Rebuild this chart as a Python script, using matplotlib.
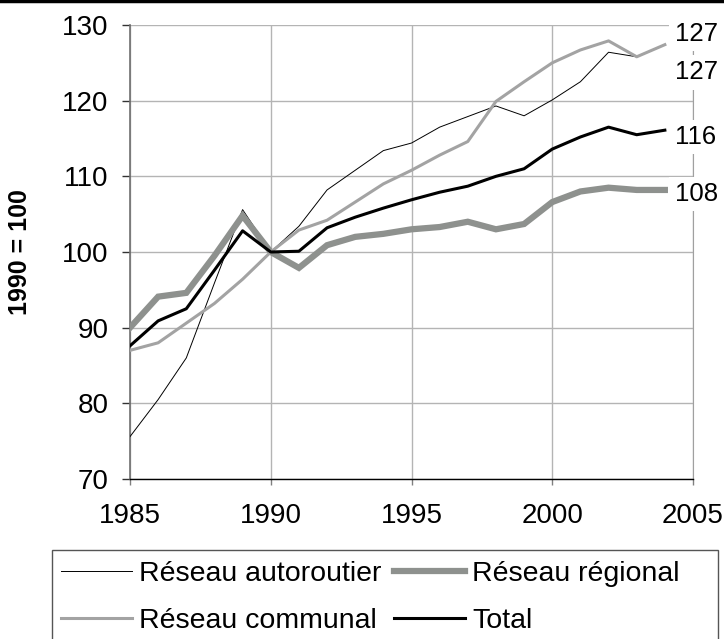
import numpy as np
import matplotlib
matplotlib.use("Agg")
import matplotlib.pyplot as plt
from matplotlib.lines import Line2D
from matplotlib.patches import Rectangle

plt.rcParams['font.family'] = ['Liberation Sans', 'DejaVu Sans']

years = np.arange(1985, 2005)
autoroutier = [75.6, 80.5, 86.0, 95.9, 105.6, 100.0, 103.4, 108.2, 110.8, 113.4,
               114.4, 116.5, 117.9, 119.3, 118.0, 120.1, 122.5, 126.4, 125.8, 127.4]
regional = [90.0, 94.1, 94.6, 99.5, 104.8, 100.0, 97.9, 100.9, 102.0, 102.4,
            103.0, 103.3, 104.0, 103.0, 103.7, 106.6, 108.0, 108.5, 108.2, 108.2]
communal = [87.0, 88.0, 90.6, 93.2, 96.4, 100.0, 102.9, 104.2, 106.6, 109.0,
            110.8, 112.8, 114.6, 119.9, 122.5, 125.0, 126.7, 127.9, 125.8, 127.4]
total = [87.6, 90.9, 92.5, 97.6, 102.8, 100.0, 100.1, 103.2, 104.6, 105.8,
         106.9, 107.9, 108.7, 110.0, 111.0, 113.6, 115.2, 116.5, 115.5, 116.1]

W, H = 724, 639
FS = 20
fig = plt.figure(figsize=(W / 100, H / 100), dpi=100)
ax = fig.add_axes([130 / W, 1 - 479 / H, (693 - 130) / W, (479 - 25) / H])

l_auto, = ax.plot(years, autoroutier, color='black', lw=0.7, label='Réseau autoroutier', zorder=3)
l_reg, = ax.plot(years, regional, color='#8e918e', lw=4.5, label='Réseau régional', zorder=3,
                 solid_joinstyle='miter')
l_com, = ax.plot(years, communal, color='#a3a3a3', lw=2.2, label='Réseau communal', zorder=3)
l_tot, = ax.plot(years, total, color='black', lw=2.2, label='Total', zorder=3)

ax.set_xlim(1985, 2005)
ax.set_ylim(70, 130)
ax.set_xticks(np.arange(1985, 2006, 5))
ax.set_yticks(np.arange(70, 131, 10))
ax.grid(True, color='#b4b4b4', lw=1.0)
ax.set_axisbelow(True)

ax.spines['top'].set_visible(False)
ax.spines['left'].set_color('#707070')
ax.spines['left'].set_linewidth(1.2)
ax.spines['right'].set_color('#a0a0a0')
ax.spines['bottom'].set_color('black')
ax.spines['bottom'].set_linewidth(1.0)
ax.tick_params(axis='y', direction='out', length=5.5, width=1, color='#333333',
               pad=10, labelsize=FS)
ax.tick_params(axis='x', direction='out', length=4, width=1, color='#808080',
               pad=13.5, labelsize=FS)

fig.text(20 / W, 1 - 252 / H, '1990 = 100', rotation=90, fontsize=18,
         fontweight='bold', ha='center', va='center')

# end-of-series labels (white boxes hide grid and right spine)
end_labels = [(autoroutier[-1], 8), (communal[-1], -20), (total[-1], -5), (regional[-1], -3)]
for val, dy in end_labels:
    ax.annotate(f"{val:.0f}", xy=(years[-1], val), xytext=(7, dy),
                textcoords='offset points', fontsize=18.5, ha='left', va='center',
                annotation_clip=False, zorder=5,
                bbox=dict(boxstyle='square,pad=0.2', fc='white', ec='none'))

# legend box (cut off at the bottom)
fig.add_artist(Rectangle((52 / W, 1 - 660 / H), (718 - 52) / W, 110 / H,
                         transform=fig.transFigure, fill=False,
                         ec='#555555', lw=1.0))
fig.legend([l_auto, l_com, l_reg, l_tot],
           ['Réseau autoroutier', 'Réseau communal', 'Réseau régional', 'Total'],
           loc='upper left', bbox_to_anchor=(61 / W, 1 - 561 / H), ncol=2,
           frameon=False, fontsize=20.5, handlelength=2.5, handletextpad=0.25,
           columnspacing=0.42, labelspacing=0.73, borderpad=0.0,
           borderaxespad=0.0)

# top border line
fig.add_artist(Line2D([0, 1], [1 - 1 / H, 1 - 1 / H], transform=fig.transFigure,
                      color='black', lw=2.5))

fig.savefig('out.png', dpi=100)
